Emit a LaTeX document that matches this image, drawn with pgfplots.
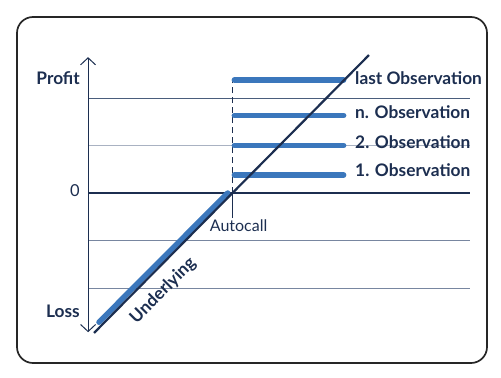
\documentclass[border=0pt]{standalone}
\usepackage{pgfplots}
\pgfplotsset{compat=1.18}
\usepackage{fontspec}
\setmainfont{Lato}
\usetikzlibrary{arrows.meta}
\definecolor{navy}{HTML}{1C2E50}
\definecolor{obsblue}{HTML}{3B77BC}
\definecolor{gridA}{HTML}{4A5D7C}
\definecolor{gridB}{HTML}{A9B2C2}
\definecolor{gridC}{HTML}{7886A0}
\begin{document}
\begin{tikzpicture}[x=1bp,y=1bp]
\useasboundingbox (-232,-184) rectangle (269,193);
\draw[line width=1.7bp, black!85, rounded corners=16bp] (-215,176) rectangle (255,-170);
\begin{axis}[at={(0,0)}, anchor=origin, x=47.5bp, y=47.5bp,
  xmin=-3.2, xmax=5.2, ymin=-3.1, ymax=3.1, axis lines=none, clip=false]
% grid lines
\addplot[gridA, line width=0.9bp] coordinates {(-3.03,2) (5.01,2)};
\addplot[gridB, line width=0.9bp] coordinates {(-3.03,1) (5.01,1)};
\addplot[gridC, line width=0.9bp] coordinates {(-3.03,-1) (5.01,-1)};
\addplot[gridC, line width=0.9bp] coordinates {(-3.03,-2) (5.01,-2)};
\addplot[navy, line width=1.4bp] coordinates {(-3.03,0) (5.01,0)};
% y axis
\addplot[navy, line width=1bp, {Straight Barb[length=7bp,width=15bp]}-{Straight Barb[length=7bp,width=15bp]}] coordinates {(-3.03,-2.93) (-3.03,2.86)};
% autocall line
\addplot[navy, line width=0.8bp, dash pattern=on 6bp off 4bp] coordinates {(0,0) (0,2.38)};
\addplot[navy, line width=0.8bp] coordinates {(0,-0.53) (0,0)};
% blue payoff below
\addplot[obsblue, line width=5.5bp, line cap=round] coordinates {(-2.8,-2.72) (-0.09,0)};
% observations
\addplot[obsblue, line width=5.5bp, line cap=round] coordinates {(0.05,2.38) (2.35,2.38)};
\addplot[obsblue, line width=5.5bp, line cap=round] coordinates {(0.05,1.63) (2.35,1.63)};
\addplot[obsblue, line width=5.5bp, line cap=round] coordinates {(0.05,1.0) (2.35,1.0)};
\addplot[obsblue, line width=5.5bp, line cap=round] coordinates {(0.05,0.38) (2.35,0.38)};
% underlying
\addplot[navy, line width=2.2bp] coordinates {(-2.905,-2.947) (2.884,2.905)};
% labels
\node[anchor=base west, font=\fontsize{17.3bp}{20bp}\selectfont\bfseries, text=navy, inner sep=0pt] at (axis cs:2.59,2.274) {last Observation};
\node[anchor=base west, font=\fontsize{17.3bp}{20bp}\selectfont\bfseries, text=navy, inner sep=0pt] at (axis cs:2.59,1.558) {n. Observation};
\node[anchor=base west, font=\fontsize{17.3bp}{20bp}\selectfont\bfseries, text=navy, inner sep=0pt] at (axis cs:2.59,0.947) {2. Observation};
\node[anchor=base west, font=\fontsize{17.3bp}{20bp}\selectfont\bfseries, text=navy, inner sep=0pt] at (axis cs:2.59,0.337) {1. Observation};
\node[anchor=base east, font=\fontsize{17.3bp}{20bp}\selectfont\bfseries, text=navy, inner sep=0pt] at (axis cs:-3.2,2.274) {Profit};
\node[anchor=base east, font=\fontsize{17.3bp}{20bp}\selectfont\bfseries, text=navy, inner sep=0pt] at (axis cs:-3.2,-2.625) {Loss};
\node[anchor=base east, font=\fontsize{16.5bp}{19bp}\selectfont, text=navy, inner sep=0pt] at (axis cs:-3.2,-0.084) {0};
\node[anchor=base west, font=\fontsize{16bp}{19bp}\selectfont, text=navy, inner sep=0pt] at (axis cs:-0.47,-0.815) {Autocall};
\node[rotate=45, font=\fontsize{17.3bp}{20bp}\selectfont\bfseries, text=navy, inner sep=0pt] at (axis cs:-1.45,-2.06) {Underlying};
\end{axis}
\end{tikzpicture}
\end{document}
